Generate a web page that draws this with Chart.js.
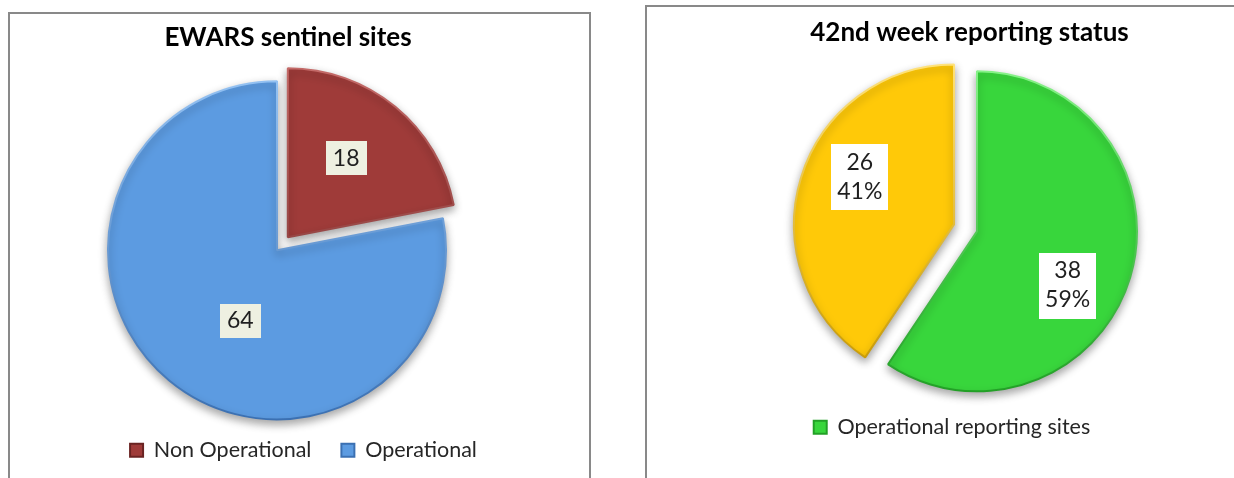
<!DOCTYPE html>
<html>
<head>
<meta charset="utf-8">
<script src="https://cdn.jsdelivr.net/npm/chart.js@4.4.0/dist/chart.umd.min.js"></script>
<style>
  html, body { margin: 0; padding: 0; background: #fff; overflow: hidden; }
  body { width: 1234px; height: 478px; position: relative; }
  .panel { position: absolute; border: 2px solid #898989; background: #fff; }
  #panelLeft { left: 8px; top: 12px; width: 579px; height: 480px; }
  #panelRight { left: 645px; top: 5px; width: 600px; height: 490px; }
  canvas { display: block; }
</style>
</head>
<body>
<div class="panel" id="panelLeft"><canvas id="sitesChart" width="579" height="470"></canvas></div>
<div class="panel" id="panelRight"><canvas id="reportingChart" width="587" height="471"></canvas></div>

<script>
// EWARS sentinel sites
const siteLabels = ['Non Operational', 'Operational'];
const siteCounts = [18, 64];
const siteColors = ['#9F3B39', '#5C9BE1'];
const siteRims = [['#C46A68', '#6A2322'], ['#93C1F2', '#3B70B2']];

// 42nd week reporting status (second slice has no legend entry)
const reportLabels = ['Operational reporting sites', ''];
const reportCounts = [38, 26];
const reportColors = ['#38D63C', '#FFC908'];
const reportRims = [['#86F288', '#22A026'], ['#FFE27A', '#C49600']];

const FONT = 'Lato, "Open Sans", sans-serif';

// exploded slices: move the whole wedge out along its bisector
// (Chart.js offset also grows the radius, which Excel does not do)
const arcDraw = Chart.ArcElement.prototype.draw;
Chart.ArcElement.prototype.draw = function (ctx) {
    const c = this.$context;
    const list = c && c.dataset && c.dataset.explode;
    const d = list ? (list[c.dataIndex] || 0) : 0;
    const mid = (this.startAngle + this.endAngle) / 2;
    ctx.save();
    ctx.translate(Math.cos(mid) * d, Math.sin(mid) * d);
    arcDraw.call(this, ctx);
    ctx.restore();
};

// light-to-dark rim, a rough stand-in for the bevel of the original
function rimColor(rims) {
    return function (c) {
        const chart = c.chart;
        const area = chart.chartArea;
        const pair = rims[c.dataIndex];
        if (!area || !pair) return pair ? pair[1] : '#666';
        const r = chart.options.radius;
        const cy = (area.top + area.bottom) / 2;
        const g = chart.ctx.createLinearGradient(0, cy - r, 0, cy + r);
        g.addColorStop(0, pair[0]);
        g.addColorStop(1, pair[1]);
        return g;
    };
}

// soft drop shadow under the slices
const pieShadow = {
    id: 'pieShadow',
    beforeDatasetsDraw(chart) {
        const ctx = chart.ctx;
        ctx.save();
        ctx.shadowColor = 'rgba(0, 0, 0, 0.35)';
        ctx.shadowBlur = 8;
        ctx.shadowOffsetY = 4;
    },
    afterDatasetsDraw(chart) {
        chart.ctx.restore();
    }
};

// shift pie, title and legend sideways after the layout is done
const placeBoxes = {
    id: 'placeBoxes',
    afterLayout(chart, args, opts) {
        const a = chart.chartArea;
        a.left += opts.pieX; a.right += opts.pieX;
        a.top += opts.pieY; a.bottom += opts.pieY;
        chart.titleBlock.left += opts.titleX;
        chart.titleBlock.right += opts.titleX;
        chart.legend.left += opts.legendX;
        chart.legend.right += opts.legendX;
    }
};

// boxed value labels on each slice
const sliceLabels = {
    id: 'sliceLabels',
    afterDatasetsDraw(chart, args, opts) {
        const ctx = chart.ctx;
        const meta = chart.getDatasetMeta(0);
        const ds = chart.data.datasets[0];
        const values = ds.data;
        const total = values.reduce((a, b) => a + b, 0);
        meta.data.forEach((arc, i) => {
            const p = arc.getProps(['x', 'y', 'startAngle', 'endAngle', 'outerRadius'], true);
            const pos = opts.positions[i];
            const mid = (p.startAngle + p.endAngle) / 2;
            const off = (ds.explode && ds.explode[i]) || 0;
            const a = mid + pos.turn * Math.PI / 180;
            const cx = p.x + Math.cos(mid) * off + Math.cos(a) * p.outerRadius * pos.r;
            const cy = p.y + Math.sin(mid) * off + Math.sin(a) * p.outerRadius * pos.r;
            const lines = [String(values[i])];
            if (opts.percent) lines.push(Math.round(values[i] / total * 100) + '%');

            ctx.save();
            ctx.font = opts.fontSize + 'px ' + FONT;
            const w = Math.max(...lines.map(t => ctx.measureText(t).width)) + opts.padX * 2;
            const h = lines.length * opts.lineHeight + opts.padY * 2;
            ctx.fillStyle = opts.boxColor;
            ctx.fillRect(Math.round(cx - w / 2), Math.round(cy - h / 2), Math.round(w), Math.round(h));
            ctx.fillStyle = '#1f1f1f';
            ctx.textAlign = 'center';
            ctx.textBaseline = 'middle';
            lines.forEach((t, k) => {
                ctx.fillText(t, cx, cy - h / 2 + opts.padY + opts.lineHeight * (k + 0.5));
            });
            ctx.restore();
        });
    }
};

function pieOptions(title, titlePad, legendPad, bottomPad, radius, place, labels) {
    return {
        responsive: false,
        animation: false,
        devicePixelRatio: 1,
        radius: radius,
        layout: { padding: { left: 0, right: 0, top: 0, bottom: bottomPad } },
        plugins: {
            title: {
                display: true,
                text: title,
                color: '#000',
                font: { family: FONT, size: 26, weight: 'bold' },
                padding: titlePad
            },
            legend: {
                position: 'bottom',
                labels: {
                    color: '#262626',
                    font: { family: FONT, size: 21.5 },
                    boxWidth: 13,
                    boxHeight: 13,
                    padding: legendPad,
                    filter: item => item.text !== ''
                }
            },
            tooltip: { enabled: false },
            placeBoxes: place,
            sliceLabels: labels
        }
    };
}

new Chart(document.getElementById('sitesChart'), {
    type: 'pie',
    data: {
        labels: siteLabels,
        datasets: [{
            data: siteCounts,
            backgroundColor: siteColors,
            borderColor: rimColor(siteRims),
            borderWidth: 2,
            explode: [17, 0]
        }]
    },
    options: pieOptions('EWARS sentinel sites',
        { top: 8, bottom: 36 }, 30, 13, 169,
        { pieX: -22.5, pieY: 1, titleX: -11.5, legendX: 4 },
        { positions: [{ r: 0.58, turn: -3 }, { r: 0.47, turn: -12 }],
          percent: false, fontSize: 23, lineHeight: 28, padX: 7, padY: 3, boxColor: '#EEF0E1' }),
    plugins: [pieShadow, placeBoxes, sliceLabels]
});

new Chart(document.getElementById('reportingChart'), {
    type: 'pie',
    data: {
        labels: reportLabels,
        datasets: [{
            data: reportCounts,
            backgroundColor: reportColors,
            borderColor: rimColor(reportRims),
            borderWidth: 2,
            explode: [0, 24]
        }]
    },
    options: pieOptions('42nd week reporting status',
        { top: 10, bottom: 8 }, 10, 30, 160,
        { pieX: 36.5, pieY: 0, titleX: 29, legendX: 11.5 },
        { positions: [{ r: 0.66, turn: 14 }, { r: 0.66, turn: 10 }],
          percent: true, fontSize: 23, lineHeight: 29, padX: 6, padY: 4, boxColor: '#FFFFFF' }),
    plugins: [pieShadow, placeBoxes, sliceLabels]
});
</script>
</body>
</html>
